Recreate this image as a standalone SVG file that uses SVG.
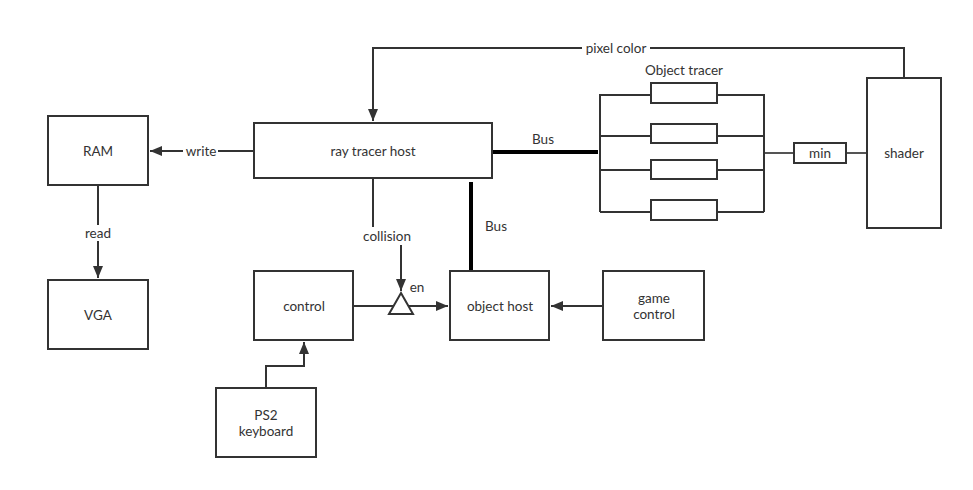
<svg xmlns="http://www.w3.org/2000/svg" width="973" height="490" viewBox="0 0 973 490">
<style>
.box{fill:#fff;stroke:#333;stroke-width:2}
.ln{fill:none;stroke:#333;stroke-width:2}
.thick{fill:none;stroke:#000;stroke-width:4}
.gray{fill:none;stroke:#555;stroke-width:2}
text{font-family:"Lato","Noto Sans","DejaVu Sans",sans-serif;font-size:13.5px;fill:#333;text-anchor:middle;dominant-baseline:central}
.lbl{fill:#fff;stroke:none}
</style>
<defs>
<marker id="arr" viewBox="0 0 12 10" refX="12" refY="5" markerWidth="12" markerHeight="10" markerUnits="userSpaceOnUse" orient="auto">
<path d="M0,0 L12,5 L0,10 Z" fill="#333"/>
</marker>
</defs>
<rect width="973" height="490" fill="#fff"/>
<g id="connectors">
<path class="ln" d="M904,78 V48 H373 V121" marker-end="url(#arr)"/>
<rect class="lbl" x="582" y="40" width="68" height="16"/>
<text x="616" y="48">pixel color</text>
<path class="ln" d="M254,151 H150" marker-end="url(#arr)"/>
<rect class="lbl" x="183" y="143" width="35" height="16"/>
<text x="201" y="151">write</text>
<path class="ln" d="M98,185 V278" marker-end="url(#arr)"/>
<rect class="lbl" x="82" y="225" width="32" height="16"/>
<text x="98" y="233">read</text>
<path class="ln" d="M373,178 V236 H401 V291" marker-end="url(#arr)"/>
<rect class="lbl" x="360" y="227" width="55" height="18"/>
<text x="387" y="236">collision</text>
<path class="ln" d="M353,306 H448" marker-end="url(#arr)"/>
<path class="ln" d="M603,306 H551" marker-end="url(#arr)"/>
<path class="ln" d="M266,388 V366 H304 V342" marker-end="url(#arr)"/>
<path class="thick" d="M492,152 H598"/>
<text x="543" y="139">Bus</text>
<path class="thick" d="M471,182 V271"/>
<text x="496" y="226">Bus</text>
<path class="gray" d="M764,153 H794"/>
<path class="gray" d="M846,153 H867"/>
<path class="ln" d="M600,94 V212 M764,94 V212"/>
<path class="ln" d="M600,95 H651 M717,95 H764 M600,136 H651 M717,136 H764 M600,170 H651 M717,170 H764 M600,212 H651 M717,212 H764"/>
</g>
<g id="buffer">
<path d="M401,293 L413,314 L389,314 Z" fill="#fff" stroke="#333" stroke-width="2"/>
<text x="417" y="287">en</text>
</g>
<g id="ram"><rect class="box" x="48" y="116" width="100" height="69"/><text x="98" y="151">RAM</text></g>
<g id="vga"><rect class="box" x="48" y="280" width="100" height="69"/><text x="98" y="315">VGA</text></g>
<g id="ray-tracer-host"><rect class="box" x="254" y="123" width="238" height="55"/><text x="373" y="151">ray tracer host</text></g>
<g id="control"><rect class="box" x="254" y="271" width="99" height="69"/><text x="304" y="306">control</text></g>
<g id="object-host"><rect class="box" x="450" y="271" width="99" height="69"/><text x="500" y="306">object host</text></g>
<g id="game-control"><rect class="box" x="603" y="271" width="101" height="69"/><text x="654" y="298">game<tspan x="654" dy="16">control</tspan></text></g>
<g id="ps2-keyboard"><rect class="box" x="216" y="388" width="100" height="69"/><text x="266" y="415">PS2<tspan x="266" dy="16">keyboard</tspan></text></g>
<g id="object-tracer">
<text x="684" y="70">Object tracer</text>
<rect class="box" x="651" y="83" width="66" height="20"/>
<rect class="box" x="651" y="124" width="66" height="19"/>
<rect class="box" x="651" y="160" width="66" height="19"/>
<rect class="box" x="651" y="200" width="66" height="20"/>
</g>
<g id="min"><rect class="box" x="794" y="143" width="52" height="20"/><text x="820" y="153">min</text></g>
<g id="shader"><rect class="box" x="867" y="78" width="74" height="150"/><text x="904" y="153">shader</text></g>
</svg>
